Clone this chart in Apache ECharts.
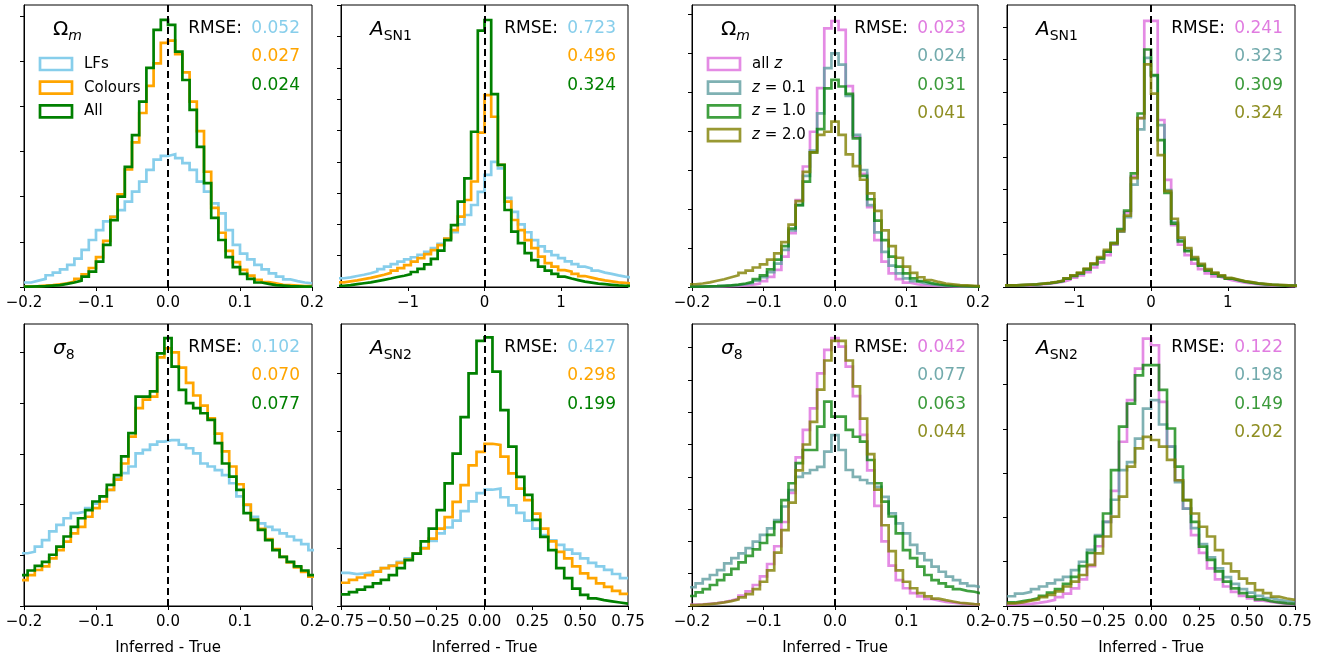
<!DOCTYPE html>
<html><head><meta charset="utf-8">
<script src="https://cdn.jsdelivr.net/npm/echarts@6/dist/echarts.min.js"></script>
<style>html,body{margin:0;padding:0;background:#fff}#c{width:1340px;height:659px}</style>
</head><body><div id="c"></div>
<script>
// ---------------- DATA ----------------
// x tick values
const xTicksOm = [-0.2, -0.1, 0, 0.1, 0.2];
const xTicksA1 = [-1, 0, 1];
const xTicksA2 = [-0.75, -0.5, -0.25, 0, 0.25, 0.5, 0.75];
// legend names
const namesLeft = ['LFs', 'Colours', 'All'];
const namesRight = ['all z', 'z = 0.1', 'z = 1.0', 'z = 2.0'];
// RMSE values
const rmseP1 = ['0.052', '0.027', '0.024'];
const rmseP2 = ['0.723', '0.496', '0.324'];
const rmseP3 = ['0.023', '0.024', '0.031', '0.041'];
const rmseP4 = ['0.241', '0.323', '0.309', '0.324'];
const rmseP5 = ['0.102', '0.070', '0.077'];
const rmseP6 = ['0.427', '0.298', '0.199'];
const rmseP7 = ['0.042', '0.077', '0.063', '0.044'];
const rmseP8 = ['0.122', '0.198', '0.149', '0.202'];
// histogram bins: first edge, width
const binsP1 = [-0.2, 0.01];
const binsP2 = [-1.925, 0.0875];
const binsP3 = [-0.205, 0.01];
const binsP4 = [-1.925, 0.0875];
const binsP5 = [-0.205, 0.01];
const binsP6 = [-0.75, 1 / 24];
const binsP7 = [-0.205, 0.01];
const binsP8 = [-0.75, 1 / 24];

// Panel 1: Omega_m, LFs / Colours / All
const p1LF = [0.10, 0.14, 0.18, 0.26, 0.32, 0.39, 0.49, 0.63, 0.82, 1.04, 1.26, 1.45, 1.56, 1.70, 1.89, 2.11, 2.33, 2.59, 2.82, 2.90,
  2.94, 2.85, 2.74, 2.59, 2.33, 2.11, 1.85, 1.63, 1.26, 0.93, 0.74, 0.61, 0.49, 0.39, 0.30, 0.23, 0.17, 0.13, 0.10, 0.08];
const p1Col = [0.015, 0.02, 0.03, 0.04, 0.06, 0.08, 0.12, 0.18, 0.28, 0.42, 0.66, 1.02, 1.55, 2.05, 2.60, 3.20, 3.85, 4.45, 4.95, 5.40,
  5.45, 5.15, 4.75, 4.10, 3.45, 2.55, 1.75, 1.20, 0.80, 0.55, 0.38, 0.25, 0.16, 0.11, 0.08, 0.05, 0.04, 0.03, 0.02, 0.02];
const p1All = [0.01, 0.015, 0.02, 0.03, 0.04, 0.07, 0.10, 0.14, 0.23, 0.34, 0.56, 0.93, 1.48, 2.0, 2.66, 3.36, 4.10, 4.85, 5.69, 5.91,
  5.80, 5.21, 4.58, 3.92, 3.10, 2.30, 1.53, 1.04, 0.66, 0.44, 0.29, 0.18, 0.10, 0.07, 0.04, 0.03, 0.02, 0.015, 0.01, 0.01];

// Panel 2: A_SN1, LFs / Colours / All
const p2LF = [0.28, 0.31, 0.35, 0.39, 0.44, 0.50, 0.57, 0.65, 0.73, 0.81, 0.88, 0.95, 1.03, 1.12, 1.24, 1.38, 1.55, 1.75, 2.0, 2.3, 2.62, 3.04,
  3.58, 4.0, 3.79, 2.85, 2.4, 2.0, 1.75, 1.5, 1.3, 1.14, 1.02, 0.92, 0.82, 0.73, 0.65, 0.59, 0.52, 0.46, 0.42, 0.37, 0.33, 0.30];
const p2Col = [0.15, 0.18, 0.21, 0.25, 0.29, 0.34, 0.39, 0.45, 0.52, 0.60, 0.70, 0.81, 0.92, 1.05, 1.18, 1.34, 1.55, 1.82, 2.25, 2.78, 3.37, 4.93,
  6.13, 5.44, 3.90, 2.73, 2.14, 1.82, 1.50, 1.24, 0.97, 0.76, 0.65, 0.54, 0.49, 0.42, 0.35, 0.30, 0.25, 0.21, 0.18, 0.15, 0.13, 0.11];
const p2All = [0.04, 0.06, 0.09, 0.12, 0.15, 0.19, 0.23, 0.27, 0.32, 0.36, 0.41, 0.48, 0.58, 0.72, 0.90, 1.16, 1.50, 1.98, 2.73, 3.47, 4.96, 8.19,
  8.53, 6.16, 3.90, 2.46, 1.77, 1.40, 1.08, 0.86, 0.65, 0.52, 0.42, 0.33, 0.27, 0.22, 0.17, 0.14, 0.11, 0.09, 0.07, 0.05, 0.04, 0.03];

// Panel 3: Omega_m, all z / z=0.1 / z=1.0 / z=2.0
const p3AllZ = [0.01, 0.01, 0.01, 0.01, 0.015, 0.02, 0.03, 0.04, 0.06, 0.09, 0.15, 0.26, 0.44, 0.78, 1.38, 2.23, 3.09, 3.98, 5.1, 6.63,
  6.82, 6.59, 5.15, 3.85, 2.9, 2.05, 1.2, 0.65, 0.35, 0.2, 0.11, 0.07, 0.05, 0.035, 0.025, 0.02, 0.015, 0.01, 0.01, 0.01, 0.01];
const p3Z01 = [0.01, 0.01, 0.015, 0.02, 0.03, 0.04, 0.05, 0.07, 0.1, 0.16, 0.25, 0.38, 0.6, 0.95, 1.45, 2.1, 2.85, 3.5, 4.45, 5.61,
  5.99, 5.7, 4.9, 3.9, 3.0, 2.1, 1.4, 0.9, 0.55, 0.35, 0.22, 0.15, 0.1, 0.07, 0.05, 0.035, 0.025, 0.02, 0.015, 0.01, 0.01];
const p3Z10 = [0.01, 0.01, 0.015, 0.02, 0.03, 0.04, 0.06, 0.09, 0.13, 0.2, 0.3, 0.45, 0.7, 1.05, 1.5, 2.1, 2.7, 3.45, 4.05, 5.09,
  5.31, 5.14, 4.95, 3.81, 2.85, 2.25, 1.7, 1.2, 0.78, 0.52, 0.35, 0.22, 0.15, 0.1, 0.07, 0.05, 0.035, 0.025, 0.02, 0.015, 0.01];
const p3Z20 = [0.07, 0.09, 0.12, 0.16, 0.2, 0.25, 0.3, 0.36, 0.42, 0.5, 0.58, 0.7, 0.86, 1.15, 1.6, 2.2, 2.95, 3.45, 3.9, 3.98,
  4.24, 3.9, 3.4, 3.1, 2.75, 2.4, 1.95, 1.45, 1.05, 0.75, 0.52, 0.36, 0.25, 0.18, 0.13, 0.09, 0.07, 0.05, 0.04, 0.03, 0.02];

// Panel 4: A_SN1, all z / z=0.1 / z=1.0 / z=2.0
const p4AllZ = [0.04, 0.04, 0.05, 0.06, 0.07, 0.085, 0.10, 0.13, 0.16, 0.22, 0.29, 0.36, 0.46, 0.60, 0.76, 0.98, 1.3, 1.72, 2.3, 3.4, 5.2, 8.19,
  8.19, 5.14, 3.3, 1.9, 1.3, 0.98, 0.72, 0.55, 0.42, 0.33, 0.27, 0.21, 0.17, 0.13, 0.11, 0.09, 0.07, 0.055, 0.045, 0.04, 0.03, 0.03];
const p4Z01 = [0.05, 0.05, 0.06, 0.07, 0.08, 0.10, 0.12, 0.15, 0.19, 0.26, 0.34, 0.42, 0.54, 0.70, 0.88, 1.09, 1.32, 1.7, 2.15, 3.15, 4.85, 7.05,
  6.5, 4.98, 2.98, 2.0, 1.45, 1.14, 0.88, 0.68, 0.52, 0.42, 0.34, 0.27, 0.22, 0.17, 0.14, 0.11, 0.09, 0.07, 0.06, 0.05, 0.04, 0.04];
const p4Z10 = [0.05, 0.05, 0.06, 0.07, 0.08, 0.10, 0.12, 0.15, 0.19, 0.26, 0.34, 0.42, 0.54, 0.70, 0.88, 1.09, 1.36, 1.78, 2.35, 3.5, 5.34, 7.31,
  6.52, 4.52, 2.9, 1.95, 1.4, 1.1, 0.85, 0.66, 0.5, 0.41, 0.33, 0.26, 0.21, 0.165, 0.135, 0.105, 0.085, 0.07, 0.055, 0.045, 0.04, 0.035];
const p4Z20 = [0.05, 0.05, 0.065, 0.075, 0.085, 0.105, 0.125, 0.16, 0.2, 0.27, 0.36, 0.44, 0.57, 0.73, 0.92, 1.14, 1.34, 1.72, 2.2, 3.35, 5.2, 6.85,
  5.95, 4.06, 2.95, 2.1, 1.52, 1.2, 0.92, 0.71, 0.55, 0.44, 0.36, 0.28, 0.23, 0.18, 0.15, 0.115, 0.095, 0.075, 0.065, 0.055, 0.045, 0.04];

// Panel 5: sigma_8, LFs / Colours / All
const p5LF = [1.04, 1.07, 1.17, 1.30, 1.47, 1.60, 1.73, 1.83, 1.86, 1.93, 2.02, 2.16, 2.29, 2.52, 2.62, 2.75, 3.01, 3.08, 3.18, 3.24,
  3.27, 3.27, 3.18, 3.11, 3.01, 2.81, 2.75, 2.68, 2.58, 2.42, 2.16, 1.99, 1.76, 1.63, 1.56, 1.50, 1.43, 1.37, 1.30, 1.22, 1.10];
const p5Col = [0.51, 0.61, 0.71, 0.78, 0.94, 1.10, 1.27, 1.43, 1.56, 1.76, 1.93, 2.06, 2.29, 2.49, 2.81, 3.34, 3.9, 4.07, 4.13, 4.9,
  5.08, 5.0, 4.7, 4.4, 4.15, 3.95, 3.7, 3.4, 3.05, 2.75, 2.4, 2.0, 1.7, 1.52, 1.32, 1.12, 0.97, 0.86, 0.76, 0.67, 0.58];
const p5All = [0.61, 0.70, 0.79, 0.87, 1.01, 1.17, 1.37, 1.56, 1.73, 1.89, 2.06, 2.16, 2.39, 2.58, 2.95, 3.41, 4.13, 4.13, 4.23, 4.98,
  5.28, 4.72, 4.26, 4.0, 3.9, 3.8, 3.67, 3.21, 2.81, 2.55, 2.29, 1.83, 1.70, 1.50, 1.30, 1.10, 0.97, 0.87, 0.78, 0.70, 0.61];

// Panel 6: A_SN2, LFs / Colours / All
const p6LF = [0.57, 0.55, 0.56, 0.58, 0.61, 0.65, 0.70, 0.76, 0.82, 0.90, 1.0, 1.12, 1.25, 1.35, 1.47, 1.63, 1.8, 1.94,
  2.0, 2.02, 1.87, 1.73, 1.6, 1.47, 1.33, 1.22, 1.13, 1.05, 0.97, 0.9, 0.82, 0.74, 0.68, 0.62, 0.55, 0.48];
const p6Col = [0.40, 0.45, 0.49, 0.53, 0.59, 0.65, 0.69, 0.74, 0.80, 0.90, 0.99, 1.16, 1.33, 1.53, 1.79, 2.08, 2.42, 2.65,
  2.79, 2.77, 2.57, 2.28, 2.02, 1.82, 1.59, 1.33, 1.11, 0.93, 0.82, 0.68, 0.56, 0.48, 0.39, 0.33, 0.26, 0.21];
const p6All = [0.20, 0.24, 0.28, 0.33, 0.39, 0.45, 0.53, 0.65, 0.79, 0.90, 1.11, 1.33, 1.65, 2.11, 2.62, 3.25, 4.0, 4.56,
  4.62, 4.03, 3.37, 2.74, 2.22, 1.91, 1.48, 1.19, 0.96, 0.65, 0.48, 0.30, 0.19, 0.13, 0.10, 0.08, 0.06, 0.04];

// Panel 7: sigma_8, all z / z=0.1 / z=1.0 / z=2.0
const p7AllZ = [0.04, 0.05, 0.07, 0.09, 0.12, 0.17, 0.23, 0.32, 0.45, 0.65, 0.92, 1.3, 1.85, 2.6, 3.5, 4.6, 5.45, 6.12, 7.2, 7.93,
  8.29, 8.03, 7.41, 6.5, 5.3, 4.2, 3.1, 2.0, 1.25, 0.8, 0.55, 0.4, 0.3, 0.22, 0.17, 0.13, 0.1, 0.08, 0.06, 0.05, 0.04];
const p7Z01 = [0.58, 0.70, 0.83, 0.96, 1.11, 1.32, 1.48, 1.63, 1.79, 1.99, 2.20, 2.40, 2.66, 3.08, 3.59, 4.0, 4.11, 4.21, 4.31, 4.78,
  5.29, 4.83, 4.21, 4.0, 3.90, 3.80, 3.69, 3.38, 2.87, 2.56, 2.25, 1.89, 1.63, 1.42, 1.22, 1.06, 0.91, 0.80, 0.70, 0.62, 0.58];
const p7Z10 = [0.31, 0.42, 0.52, 0.65, 0.8, 0.97, 1.15, 1.35, 1.55, 1.75, 1.95, 2.2, 2.6, 3.28, 3.80, 4.42, 4.83, 4.83, 5.55, 6.33,
  5.86, 5.86, 5.45, 5.24, 5.09, 4.52, 3.80, 3.23, 2.77, 2.25, 1.73, 1.48, 1.22, 0.96, 0.80, 0.70, 0.60, 0.52, 0.47, 0.44, 0.39];
const p7Z20 = [0.03, 0.04, 0.06, 0.08, 0.11, 0.15, 0.2, 0.27, 0.37, 0.52, 0.75, 1.1, 1.65, 2.35, 3.2, 4.2, 5.0, 5.7, 6.7, 7.6,
  8.21, 8.21, 7.6, 6.8, 5.8, 4.7, 3.6, 2.5, 1.7, 1.1, 0.75, 0.55, 0.4, 0.3, 0.23, 0.18, 0.14, 0.1, 0.08, 0.06, 0.05];

// Panel 8: A_SN2, all z / z=0.1 / z=1.0 / z=2.0
const p8AllZ = [0.03, 0.04, 0.05, 0.07, 0.1, 0.14, 0.2, 0.28, 0.4, 0.6, 0.9, 1.35, 1.9, 2.6, 3.71, 4.65, 5.36, 6.04,
  5.89, 4.61, 3.6, 2.84, 2.2, 1.6, 1.2, 0.85, 0.6, 0.44, 0.32, 0.23, 0.17, 0.12, 0.09, 0.07, 0.05, 0.04];
const p8Z01 = [0.22, 0.28, 0.32, 0.38, 0.44, 0.51, 0.59, 0.66, 0.81, 1.0, 1.27, 1.6, 1.9, 2.4, 3.07, 3.25, 3.78, 4.46,
  4.65, 4.1, 3.6, 2.8, 2.2, 1.76, 1.4, 1.1, 0.85, 0.65, 0.5, 0.38, 0.3, 0.23, 0.18, 0.14, 0.11, 0.09];
const p8Z10 = [0.08, 0.11, 0.14, 0.18, 0.23, 0.3, 0.38, 0.5, 0.66, 0.9, 1.2, 1.57, 2.09, 3.07, 4.05, 4.57, 5.21, 5.44,
  5.44, 4.88, 4.01, 3.15, 2.39, 1.90, 1.34, 1.04, 0.78, 0.55, 0.40, 0.29, 0.21, 0.15, 0.11, 0.08, 0.06, 0.05];
const p8Z20 = [0.06, 0.08, 0.12, 0.15, 0.2, 0.25, 0.33, 0.44, 0.55, 0.7, 0.93, 1.19, 1.57, 2.02, 2.47, 3.15, 3.56, 3.82,
  3.75, 3.6, 3.3, 2.84, 2.39, 2.09, 1.79, 1.57, 1.26, 0.96, 0.78, 0.62, 0.51, 0.36, 0.29, 0.21, 0.17, 0.14];

// ---------------- LAYOUT / STYLE ----------------
const GX = [24, 341, 692, 1007];
const GW = [288, 287, 286, 288];
const GY = [5, 324];
const GH = 282;
const FONT = 'DejaVu Sans';
const LW = 2.7;
const styleLeft = [
  { line: '#87CEEB', text: '#87CEEB', op: 1 },
  { line: '#FFA500', text: '#FFA500', op: 1 },
  { line: '#008000', text: '#008000', op: 1 }
];
const styleRight = [
  { line: '#DD6EDD', text: '#E07CE0', op: 0.8 },
  { line: '#5F9EA0', text: '#72AAAC', op: 0.8 },
  { line: '#008000', text: '#3A9A3A', op: 0.75 },
  { line: '#808000', text: '#8E8E22', op: 0.8 }
];
const T_OM = '{u|Ω}{si|m}', T_A1 = '{i|A}{s|SN1}', T_S8 = '{i|σ}{s|8}', T_A2 = '{i|A}{s|SN2}';

const panels = [
  { row: 0, col: 0, xr: [-0.2, 0.2], ymax: 6.24, xt: xTicksOm, dec: 1, bins: binsP1, curves: [p1LF, p1Col, p1All], grp: 'L', title: T_OM, rmse: rmseP1, legend: true },
  { row: 0, col: 1, xr: [-1.875, 1.875], ymax: 9.01, xt: xTicksA1, dec: 0, bins: binsP2, curves: [p2LF, p2Col, p2All], grp: 'L', title: T_A1, rmse: rmseP2 },
  { row: 0, col: 2, xr: [-0.2, 0.2], ymax: 7.23, xt: xTicksOm, dec: 1, bins: binsP3, curves: [p3AllZ, p3Z01, p3Z10, p3Z20], grp: 'R', title: T_OM, rmse: rmseP3, legend: true },
  { row: 0, col: 3, xr: [-1.875, 1.875], ymax: 8.68, xt: xTicksA1, dec: 0, bins: binsP4, curves: [p4AllZ, p4Z01, p4Z10, p4Z20], grp: 'R', title: T_A1, rmse: rmseP4 },
  { row: 1, col: 0, xr: [-0.2, 0.2], ymax: 5.56, xt: xTicksOm, dec: 1, bins: binsP5, curves: [p5LF, p5Col, p5All], grp: 'L', title: T_S8, rmse: rmseP5 },
  { row: 1, col: 1, xr: [-0.75, 0.75], ymax: 4.85, xt: xTicksA2, dec: 2, bins: binsP6, curves: [p6LF, p6Col, p6All], grp: 'L', title: T_A2, rmse: rmseP6 },
  { row: 1, col: 2, xr: [-0.2, 0.2], ymax: 8.73, xt: xTicksOm, dec: 1, bins: binsP7, curves: [p7AllZ, p7Z01, p7Z10, p7Z20], grp: 'R', title: T_S8, rmse: rmseP7 },
  { row: 1, col: 3, xr: [-0.75, 0.75], ymax: 6.37, xt: xTicksA2, dec: 2, bins: binsP8, curves: [p8AllZ, p8Z01, p8Z10, p8Z20], grp: 'R', title: T_A2, rmse: rmseP8 }
];

function hist(bins, vals) {
  const pts = vals.map((v, i) => [bins[0] + i * bins[1], v]);
  pts.push([bins[0] + vals.length * bins[1], vals[vals.length - 1]]);
  return pts;
}
function fmt(v, dec) {
  return (v < 0 ? '\u2212' : '') + Math.abs(v).toFixed(dec);
}
const richTitle = {
  u: { fontSize: 20, fontFamily: FONT, fill: '#000', verticalAlign: 'middle', lineHeight: 26 },
  i: { fontSize: 20, fontFamily: FONT, fontStyle: 'italic', fill: '#000', verticalAlign: 'middle', lineHeight: 26 },
  s: { fontSize: 14, fontFamily: FONT, fill: '#000', verticalAlign: 'bottom', lineHeight: 14 },
  si: { fontSize: 14, fontFamily: FONT, fontStyle: 'italic', fill: '#000', verticalAlign: 'bottom', lineHeight: 14 }
};

const grids = [], xAxes = [], yAxes = [], series = [], graphics = [];
panels.forEach((p, idx) => {
  const gx = GX[p.col], gy = GY[p.row], gw = GW[p.col];
  grids.push({ left: gx, top: gy, width: gw, height: GH, show: true, borderColor: '#000', borderWidth: 1, backgroundColor: 'rgba(0,0,0,0)' });
  xAxes.push({
    type: 'value', gridIndex: idx, min: p.xr[0], max: p.xr[1],
    axisLine: { show: true, onZero: false, lineStyle: { color: '#000', width: 1 } },
    axisTick: { show: true, length: 4, lineStyle: { color: '#000', width: 1 }, customValues: p.xt },
    axisLabel: { show: true, customValues: p.xt, formatter: v => fmt(v, p.dec), color: '#000', fontSize: 15, fontFamily: FONT, margin: 9 },
    splitLine: { show: false },
    name: p.row === 1 ? 'Inferred - True' : '', nameLocation: 'middle', nameGap: 35,
    nameTextStyle: { fontSize: 15, color: '#000', fontFamily: FONT }
  });
  const yt = [];
  for (let k = 0; k <= Math.floor(p.ymax); k++) yt.push(k);
  yAxes.push({
    type: 'value', gridIndex: idx, min: 0, max: p.ymax,
    axisLine: { show: true, onZero: false, lineStyle: { color: '#000', width: 1 } },
    axisTick: { show: true, length: 4, lineStyle: { color: '#000', width: 1 }, customValues: yt },
    axisLabel: { show: false }, splitLine: { show: false }
  });
  const styles = p.grp === 'L' ? styleLeft : styleRight;
  p.curves.forEach((vals, j) => {
    const st = styles[j];
    const s = {
      type: 'line', xAxisIndex: idx, yAxisIndex: idx, data: hist(p.bins, vals), step: 'end',
      symbol: 'none', showSymbol: false, clip: true, silent: true, animation: false, z: 2 + j,
      lineStyle: { color: st.line, width: LW, opacity: st.op, join: 'miter', cap: 'butt' }, itemStyle: { color: st.line },
      emphasis: { disabled: true }
    };
    if (j === p.curves.length - 1) {
      s.markLine = {
        silent: true, symbol: ['none', 'none'], label: { show: false }, animation: false,
        lineStyle: { color: '#000', type: [7, 4], width: 2, opacity: 1 },
        data: [{ xAxis: 0 }]
      };
    }
    series.push(s);
  });
  // title
  graphics.push({ type: 'text', x: gx + 29, y: gy + 25, z: 100, style: { text: p.title, rich: richTitle, verticalAlign: 'middle', align: 'left' } });
  // RMSE
  const vEnd = gx + gw - 12;
  graphics.push({ type: 'text', x: vEnd - 58, y: gy + 23.5, z: 100, style: { text: 'RMSE:', fontSize: 17, fontFamily: FONT, fill: '#000', align: 'right', verticalAlign: 'middle' } });
  p.rmse.forEach((r, j) => {
    graphics.push({ type: 'text', x: vEnd, y: gy + 23.5 + 28.3 * j, z: 100, style: { text: r, fontSize: 17, fontFamily: FONT, fill: styles[j].text, align: 'right', verticalAlign: 'middle' } });
  });
  // legend
  if (p.legend) {
    const names = p.grp === 'L' ? namesLeft : namesRight;
    names.forEach((nm, j) => {
      const cy = gy + 59 + 23.7 * j;
      graphics.push({ type: 'rect', z: 100, shape: { x: gx + 16, y: cy - 6, width: 32, height: 12 }, style: { fill: 'none', stroke: styles[j].line, lineWidth: LW, opacity: styles[j].op } });
      graphics.push({ type: 'text', x: gx + 60, y: cy, z: 100, style: {
        text: nm.replace(/z/g, '{i|z}'), fontSize: 15, fontFamily: FONT, fill: '#000', verticalAlign: 'middle', align: 'left',
        rich: { i: { fontSize: 15, fontFamily: FONT, fontStyle: 'italic', fill: '#000' } } } });
    });
  }
});

const chart = echarts.init(document.getElementById('c'), null, { renderer: 'canvas', width: 1340, height: 659 });
chart.setOption({
  animation: false,
  backgroundColor: '#fff',
  grid: grids, xAxis: xAxes, yAxis: yAxes, series: series, graphic: graphics
});
</script></body></html>
